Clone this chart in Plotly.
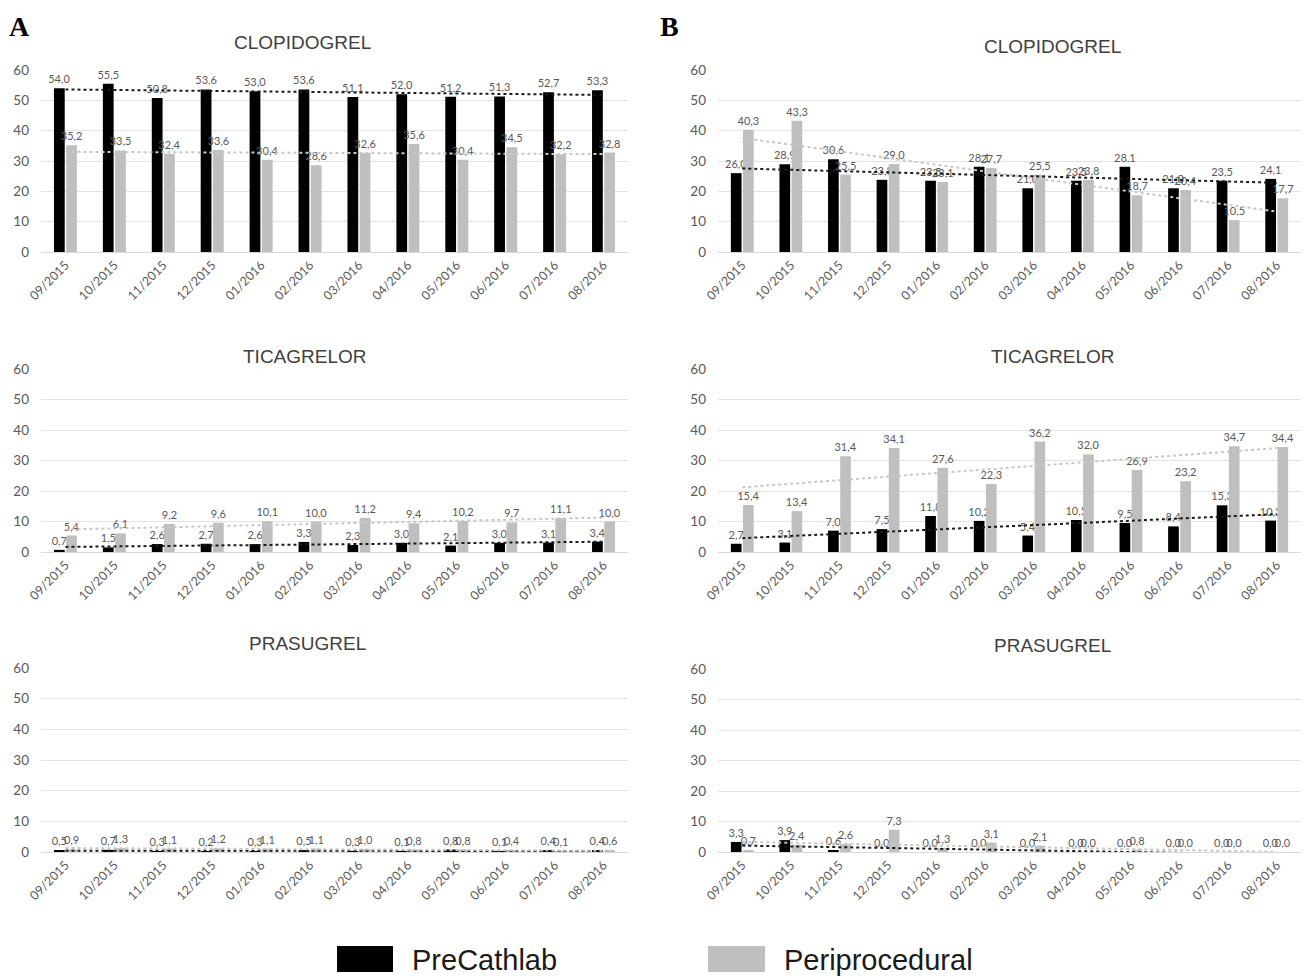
import numpy as np
import plotly.graph_objects as go
from plotly.subplots import make_subplots

months = ["09/2015", "10/2015", "11/2015", "12/2015", "01/2016", "02/2016",
          "03/2016", "04/2016", "05/2016", "06/2016", "07/2016", "08/2016"]

# Panel A
a_clop_pre = [54.0, 55.5, 50.8, 53.6, 53.0, 53.6, 51.1, 52.0, 51.2, 51.3, 52.7, 53.3]
a_clop_peri = [35.2, 33.5, 32.4, 33.6, 30.4, 28.6, 32.6, 35.6, 30.4, 34.5, 32.2, 32.8]
a_tica_pre = [0.7, 1.5, 2.6, 2.7, 2.6, 3.3, 2.3, 3.0, 2.1, 3.0, 3.1, 3.4]
a_tica_peri = [5.4, 6.1, 9.2, 9.6, 10.1, 10.0, 11.2, 9.4, 10.2, 9.7, 11.1, 10.0]
a_pras_pre = [0.5, 0.7, 0.3, 0.2, 0.3, 0.5, 0.3, 0.1, 0.8, 0.1, 0.4, 0.4]
a_pras_peri = [0.9, 1.3, 1.1, 1.2, 1.1, 1.1, 1.0, 0.8, 0.8, 0.4, 0.1, 0.6]

# Panel B
b_clop_pre = [26.0, 28.9, 30.6, 23.8, 23.5, 28.1, 21.0, 23.5, 28.1, 21.0, 23.5, 24.1]
b_clop_peri = [40.3, 43.3, 25.5, 29.0, 23.1, 27.7, 25.5, 23.8, 18.7, 20.4, 10.5, 17.7]
b_tica_pre = [2.7, 3.1, 7.0, 7.5, 11.8, 10.2, 5.4, 10.5, 9.5, 8.4, 15.3, 10.3]
b_tica_peri = [15.4, 13.4, 31.4, 34.1, 27.6, 22.3, 36.2, 32.0, 26.9, 23.2, 34.7, 34.4]
b_pras_pre = [3.3, 3.9, 0.6, 0.0, 0.0, 0.0, 0.0, 0.0, 0.0, 0.0, 0.0, 0.0]
b_pras_peri = [0.7, 2.4, 2.6, 7.3, 1.3, 3.1, 2.1, 0.0, 0.8, 0.0, 0.0, 0.0]

titles = ["CLOPIDOGREL", "TICAGRELOR", "PRASUGREL"]
series_names = ["PreCathlab", "Periprocedural"]
y_ticks = [0, 10, 20, 30, 40, 50, 60]

panels = {
    (1, 1): (a_clop_pre, a_clop_peri), (1, 2): (b_clop_pre, b_clop_peri),
    (2, 1): (a_tica_pre, a_tica_peri), (2, 2): (b_tica_pre, b_tica_peri),
    (3, 1): (a_pras_pre, a_pras_peri), (3, 2): (b_pras_pre, b_pras_peri),
}

W, H = 1309, 976
BLACK = "#000000"
GREY = "#bfbfbf"
TXT = "#595959"
FONT = "Lato"

fig = make_subplots(rows=3, cols=2)

def fmt(v):
    return f"{v:.1f}".replace(".", ",")

for (r, c), (pre, peri) in panels.items():
    for vals, col in ((pre, BLACK), (peri, GREY)):
        fig.add_trace(go.Bar(
            x=months, y=vals, marker_color=col, marker_line_width=0,
            text=[fmt(v) for v in vals], textposition="outside",
            textfont=dict(family=FONT, size=11, color=TXT),
            constraintext="none", cliponaxis=False, showlegend=False,
            hoverinfo="skip"), row=r, col=c)
    for vals, col in ((pre, "#1a1a1a"), (peri, "#c8c8c8")):
        xi = np.arange(len(vals))
        k, b0 = np.polyfit(xi, vals, 1)
        fig.add_trace(go.Scatter(
            x=months, y=k * xi + b0, mode="lines",
            line=dict(color=col, width=2, dash="dot"),
            showlegend=False, hoverinfo="skip"), row=r, col=c)

# domains (pixels)
x_dom = {1: (41, 628), 2: (718, 1301)}
y_dom = {(1, 1): (70, 252), (1, 2): (70, 252),
         (2, 1): (369, 552), (2, 2): (369, 552),
         (3, 1): (668, 852), (3, 2): (669, 852)}

for (r, c) in panels:
    idx = (r - 1) * 2 + c
    xs = "xaxis" if idx == 1 else f"xaxis{idx}"
    ys = "yaxis" if idx == 1 else f"yaxis{idx}"
    x0, x1 = x_dom[c]
    yt, yb = y_dom[(r, c)]
    fig.layout[xs].update(
        domain=[x0 / W, x1 / W], type="category", tickangle=-45,
        tickfont=dict(family=FONT, size=12.5, color=TXT), automargin=False,
        showgrid=False, showline=True, linecolor="#d9d9d9", linewidth=1,
        ticks="", fixedrange=True)
    fig.layout[ys].update(
        domain=[1 - yb / H, 1 - yt / H], range=[0, 60], tickvals=y_ticks,
        tickfont=dict(family=FONT, size=13.5, color=TXT), automargin=False,
        showgrid=True, gridcolor="#e3e3e3", gridwidth=1, zeroline=False,
        showline=False, ticks="", ticklabelstandoff=11)

annotations = []
title_pos = {(1, 1): (302, 42), (1, 2): (1052, 47),
             (2, 1): (305, 356), (2, 2): (1053, 356),
             (3, 1): (307, 643), (3, 2): (1052, 645)}
for (r, c), (px, py) in title_pos.items():
    annotations.append(dict(
        x=px / W, y=1 - py / H, xref="paper", yref="paper", showarrow=False,
        text=titles[r - 1], xanchor="center", yanchor="middle",
        font=dict(family="Liberation Sans", size=19, color="#404040")))

for letter, px in (("A", 19), ("B", 669)):
    annotations.append(dict(
        x=px / W, y=1 - 27 / H, xref="paper", yref="paper", showarrow=False,
        text=f"<b>{letter}</b>", xanchor="center", yanchor="middle",
        font=dict(family="Liberation Serif", size=28, color="#000000")))

shapes = []
legend_items = [(337, 393, BLACK, 410), (708, 765, GREY, 782)]
for (lx0, lx1, col, tx), name in zip(legend_items, series_names):
    shapes.append(dict(type="rect", xref="paper", yref="paper",
                       x0=lx0 / W, x1=lx1 / W, y0=1 - 972 / H, y1=1 - 946 / H,
                       fillcolor=col, line_width=0))
    annotations.append(dict(
        x=tx / W, y=1 - 960 / H, xref="paper", yref="paper", showarrow=False,
        text=name, xanchor="left", yanchor="middle",
        font=dict(family="Liberation Sans", size=29, color="#1a1a1a")))

fig.update_layout(
    width=W, height=H, margin=dict(l=0, r=0, t=0, b=0, autoexpand=False),
    paper_bgcolor="white", plot_bgcolor="white",
    barmode="group", bargap=0.5, bargroupgap=0.12,
    annotations=annotations, shapes=shapes, showlegend=False,
    font=dict(family=FONT),
)

fig.write_html(
    "out.html",
    config={"displayModeBar": False},
    post_script="document.body.style.margin='0';document.body.style.overflow='hidden';",
)
